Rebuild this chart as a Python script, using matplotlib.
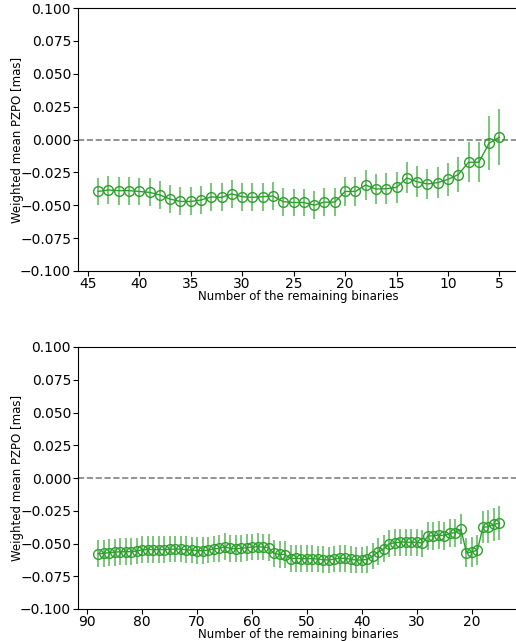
import numpy as np
import matplotlib
matplotlib.use("Agg")
import matplotlib.pyplot as plt

# ---- Top panel data ----
n_top = list(range(44, 4, -1))
pzpo_top = [-0.0395, -0.0384, -0.0389, -0.0389, -0.0395, -0.0402, -0.0422, -0.0453,
            -0.0471, -0.0471, -0.0460, -0.0437, -0.0440, -0.0414, -0.0435, -0.0440,
            -0.0435, -0.0430, -0.0473, -0.0479, -0.0479, -0.0499, -0.0476, -0.0476,
            -0.0395, -0.0395, -0.0346, -0.0377, -0.0374, -0.0364, -0.0292, -0.0321,
            -0.0338, -0.0328, -0.0303, -0.0267, -0.0173, -0.0173, -0.0028, 0.0018]
err_top = [0.0106] * 24 + [0.0110, 0.0110, 0.0115, 0.0116, 0.0116, 0.0116, 0.0118,
                           0.0117, 0.0117, 0.0117, 0.0127, 0.0134, 0.0153, 0.0153,
                           0.0204, 0.0215]

# ---- Bottom panel data ----
n_bot = list(range(88, 14, -1))
pzpo_bot = [-0.0578, -0.0575, -0.0570, -0.0566, -0.0563, -0.0563, -0.0562, -0.0558,
            -0.0548, -0.0546, -0.0546, -0.0547, -0.0546, -0.0543, -0.0543, -0.0543,
            -0.0548, -0.0550, -0.0555, -0.0555, -0.0550, -0.0542, -0.0537, -0.0525,
            -0.0537, -0.0540, -0.0537, -0.0532, -0.0527, -0.0525, -0.0527, -0.0532,
            -0.0575, -0.0583, -0.0584, -0.0615, -0.0613, -0.0616, -0.0616, -0.0616,
            -0.0618, -0.0624, -0.0626, -0.0618, -0.0613, -0.0613, -0.0621, -0.0626,
            -0.0626, -0.0621, -0.0595, -0.0563, -0.0540, -0.0501, -0.0494, -0.0489,
            -0.0489, -0.0491, -0.0491, -0.0498, -0.0443, -0.0441, -0.0435, -0.0441,
            -0.0422, -0.0417, -0.0391, -0.0570, -0.0565, -0.0550, -0.0376, -0.0372,
            -0.0354, -0.0346]
err_bot = [0.0102] * 52 + [0.0103] * 8 + [0.0106] * 6 + [0.0115, 0.0112, 0.0112,
                                                          0.0112, 0.0123, 0.0125,
                                                          0.0127, 0.0130]

top_ticks = [45, 40, 35, 30, 25, 20, 15, 10, 5]
bot_ticks = [90, 80, 70, 60, 50, 40, 30, 20]
y_ticks = [-0.100, -0.075, -0.050, -0.025, 0.000, 0.025, 0.050, 0.075, 0.100]

green = "#2ca02c"

fig = plt.figure(figsize=(5.16, 6.41), dpi=100)
ax1 = fig.add_axes([78 / 516, 1 - 271 / 641, 441.5 / 516, 263 / 641])
ax2 = fig.add_axes([78 / 516, 1 - 609 / 641, 441.5 / 516, 262 / 641])

for ax, n, y, e, ticks in [(ax1, n_top, pzpo_top, err_top, top_ticks),
                           (ax2, n_bot, pzpo_bot, err_bot, bot_ticks)]:
    ax.errorbar(n, y, yerr=e, fmt="none", ecolor=green, alpha=0.6, elinewidth=1.5, zorder=2)
    ax.plot(n, y, "-o", color=green, mfc="none", mec=green, ms=7, lw=1, zorder=3)
    ax.axhline(0, color="grey", ls="--", lw=1.2, zorder=1)
    ax.set_ylim(-0.1, 0.1)
    ax.set_yticks(y_ticks)
    ax.set_yticklabels([f"{v:.3f}".replace("-", "\u2212") for v in y_ticks])
    ax.set_xticks(ticks)
    ax.tick_params(axis="y", labelsize=10, pad=1.5)
    ax.tick_params(axis="x", labelsize=10, pad=1.0)
    ax.invert_xaxis()
    ax.set_xlabel("Number of the remaining binaries", fontsize=8.5)
    ax.set_ylabel("Weighted mean PZPO [mas]", fontsize=8.5)
    h = ax.get_position().height * 641
    ax.xaxis.set_label_coords(0.5, -19.0 / h)
    ax.yaxis.set_label_coords(-(78 - 24) / 441.5, 0.5)

fig.savefig("out.png", dpi=100)
